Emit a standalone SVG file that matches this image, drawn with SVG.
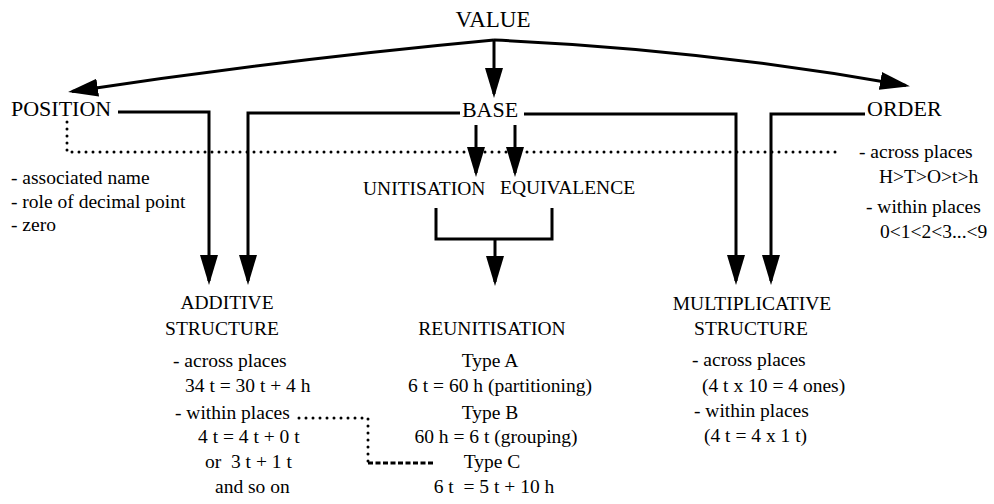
<svg xmlns="http://www.w3.org/2000/svg" width="994" height="504" viewBox="0 0 994 504">
<style>
.h1{font-size:23px}
.h2{font-size:22px}
.h3{font-size:19.5px}
.b{font-size:19.5px}
.m{text-anchor:middle}
.ln{fill:none;stroke:#000;stroke-width:3}
.ar{marker-end:url(#ah)}
.dot{fill:none;stroke:#000;stroke-width:3;stroke-linecap:round;stroke-dasharray:0 7}
.dash{fill:none;stroke:#000;stroke-width:3;stroke-dasharray:5 2.5}
</style>
<defs>
<marker id="ah" markerUnits="userSpaceOnUse" markerWidth="32" markerHeight="20" refX="26" refY="9" orient="auto" viewBox="0 0 32 20">
<path d="M0,0 L30,9 L0,18 z" fill="#000"/>
</marker>
</defs>
<rect width="994" height="504" fill="#fff"/>
<g id="connectors">
<path class="ln ar" d="M494,40 Q280,60 72,91.5"/>
<path class="ln ar" d="M494,40 Q701,49 906,85.5"/>
<path class="ln ar" d="M494,40 V94"/>
<path class="ln ar" d="M118,112 H209 V281"/>
<path class="ln ar" d="M460,113 H248 V281"/>
<path class="ln ar" d="M524,114 H736 V281"/>
<path class="ln ar" d="M865,114 H771 V281"/>
<path class="ln ar" d="M476,125 V173"/>
<path class="ln ar" d="M515,125 V173"/>
<path class="ln" d="M436,208 V239 H552 V208"/>
<path class="ln ar" d="M495,239 V282"/>
<path class="dot" d="M67,122 V152 H842"/>
<path class="dot" d="M299,418 H368 V463"/>
<path class="dash" d="M368,463 H435"/>
</g>
<g font-family="'Liberation Serif', 'DejaVu Serif', serif" fill="#000">
<g id="value"><text class="h1 m" x="493" y="27">VALUE</text></g>
<g id="position">
<text class="h2" x="11" y="116">POSITION</text>
<text class="b" x="11" y="184">- associated name</text>
<text class="b" x="11" y="208">- role of decimal point</text>
<text class="b" x="11" y="231">- zero</text>
</g>
<g id="base"><text class="h2 m" x="490" y="117">BASE</text></g>
<g id="order">
<text class="h2" x="867" y="116">ORDER</text>
<text class="b" x="859" y="158">- across places</text>
<text class="b" x="879" y="183">H&gt;T&gt;O&gt;t&gt;h</text>
<text class="b" x="866" y="213">- within places</text>
<text class="b" x="880" y="238">0&lt;1&lt;2&lt;3...&lt;9</text>
</g>
<g id="unitisation"><text class="h3" x="363" y="195">UNITISATION</text></g>
<g id="equivalence"><text class="h3" x="500" y="194">EQUIVALENCE</text></g>
<g id="additive">
<text class="h3 m" x="227" y="309">ADDITIVE</text>
<text class="h3 m" x="222" y="335">STRUCTURE</text>
<text class="b" x="173" y="367">- across places</text>
<text class="b" x="185" y="392">34 t = 30 t + 4 h</text>
<text class="b" x="175" y="419">- within places</text>
<text class="b" x="198" y="443">4 t = 4 t + 0 t</text>
<text class="b" x="205" y="468" xml:space="preserve">or  3 t + 1 t</text>
<text class="b" x="215" y="493">and so on</text>
</g>
<g id="reunitisation">
<text class="h3 m" x="492" y="335">REUNITISATION</text>
<text class="b m" x="490" y="367">Type A</text>
<text class="b m" x="500" y="392">6 t = 60 h (partitioning)</text>
<text class="b m" x="490" y="419">Type B</text>
<text class="b m" x="496" y="443">60 h = 6 t (grouping)</text>
<text class="b m" x="492" y="468">Type C</text>
<text class="b m" x="494" y="493" xml:space="preserve">6 t  = 5 t + 10 h</text>
</g>
<g id="multiplicative">
<text class="h3 m" x="752" y="310">MULTIPLICATIVE</text>
<text class="h3 m" x="751" y="335">STRUCTURE</text>
<text class="b" x="692" y="366">- across places</text>
<text class="b" x="702" y="392">(4 t x 10 = 4 ones)</text>
<text class="b" x="694" y="417">- within places</text>
<text class="b" x="704" y="442">(4 t = 4 x 1 t)</text>
</g>
</g>
</svg>
